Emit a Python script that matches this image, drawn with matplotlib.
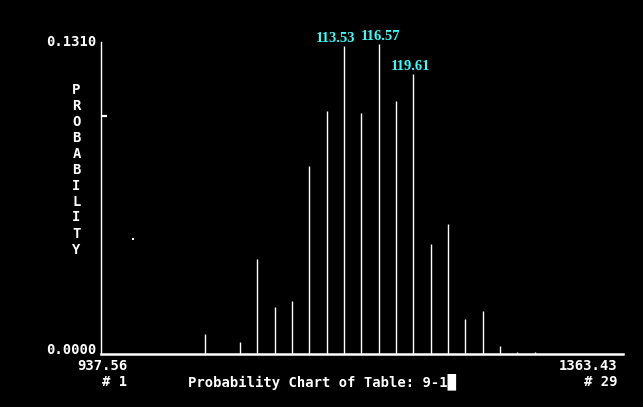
import numpy as np
import matplotlib
matplotlib.use("Agg")
import matplotlib.pyplot as plt
import matplotlib.transforms as mtransforms

# bin numbers (1..29) and probabilities
bins = [6, 8, 9, 10, 11, 12, 13, 14, 15, 16, 17, 18, 19, 20, 21, 22, 23, 24, 25]
probs = [0.0085, 0.0052, 0.0399, 0.0198, 0.0223, 0.0789, 0.1020, 0.1292, 0.1011,
         0.1301, 0.1062, 0.1175, 0.0462, 0.0546, 0.0148, 0.0181, 0.0035, 0.0010, 0.0010]

# labelled peaks
peak_bins = [14, 16, 18]
peak_labels = ["113.53", "116.57", "119.61"]

# stray pixel on the screen
stray_x = [1.83]
stray_y = [0.0483]

x_min_label = "937.56"
x_max_label = "1363.43"
n_bins = 29
y_top = 0.1310
y_tick = 0.1
title = "Probability Chart of Table: 9-1\u2588"

W, H = 643, 407
fig = plt.figure(figsize=(W / 100, H / 100), dpi=100, facecolor="black")
ax = fig.add_axes([101.3 / W, (H - 354.3) / H, (622.7 - 101.3) / W, (354.3 - 41.7) / H])
ax.set_facecolor("black")

ax.vlines(bins, 0, probs, colors="white", linewidth=1.0)
ax.scatter(stray_x, stray_y, s=1.2, color="white", marker="s", linewidths=0)

ax.set_xlim(0, 30.08)
ax.set_ylim(0, y_top)

for s in ["top", "right"]:
    ax.spines[s].set_visible(False)
ax.spines["left"].set_color("white")
ax.spines["left"].set_linewidth(1.0)
ax.spines["bottom"].set_color("white")
ax.spines["bottom"].set_linewidth(1.8)

ax.set_xticks([])
ax.set_yticks([y_tick])
ax.set_yticklabels([""])
ax.tick_params(axis="y", direction="in", length=4, width=1.6, color="white")

mono = dict(family="DejaVu Sans Mono", weight="bold", color="white", fontsize=10)
serif = dict(family="Liberation Serif", weight="bold", color="#33ffff", fontsize=10.5)

# y labels
yt = mtransforms.blended_transform_factory(ax.transAxes, ax.transData)
off = mtransforms.offset_copy(yt, fig=fig, x=-5, y=0, units="dots")
ax.text(0, y_top, f"{y_top:.4f}", transform=off, ha="right", va="center", **mono)
off0 = mtransforms.offset_copy(yt, fig=fig, x=-5, y=4.5, units="dots")
ax.text(0, 0, f"{0:.4f}", transform=off0, ha="right", va="center", **mono)

# stacked axis title
for i, ch in enumerate("PROBABILITY"):
    fig.text(76.5 / W, 1 - (89.5 + 16 * i) / H, ch, ha="center", va="center", **mono)

# x labels
fig.text(127 / W, 1 - 365.5 / H, x_min_label, ha="right", va="center", **mono)
fig.text(127 / W, 1 - 381.5 / H, "# 1", ha="right", va="center", **mono)
fig.text(617 / W, 1 - 365.5 / H, x_max_label, ha="right", va="center", **mono)
fig.text(617 / W, 1 - 381.5 / H, f"# {n_bins}", ha="right", va="center", **mono)
fig.text(321.5 / W, 1 - 381.5 / H, title, ha="center", va="center", **mono)

# peak labels (horizontal nudges as on the original screen)
pk = dict(zip(bins, probs))
nudges = [-8.5, 2, -2.5]
for b, lab, dx in zip(peak_bins, peak_labels, nudges):
    t = mtransforms.offset_copy(ax.transData, fig=fig, x=dx, y=1, units="dots")
    ax.text(b, pk[b], lab, transform=t, ha="center", va="bottom", **serif)

fig.savefig("out.png", dpi=100, facecolor="black")
